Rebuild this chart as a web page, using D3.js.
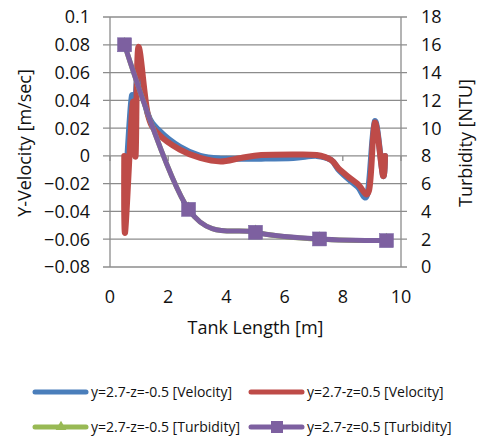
<!DOCTYPE html>
<html>
<head>
<meta charset="utf-8">
<script src="https://cdn.jsdelivr.net/npm/d3@7"></script>
<style>
  body { margin: 0; background: #fff; }
  svg { font-family: "Open Sans", sans-serif; }
</style>
</head>
<body>
<div id="chart"></div>
<script>
// 数据
const velBlueX = [0.6, 0.75, 0.85, 0.97, 1.3, 1.7, 2.4, 3.1, 3.8, 4.5, 5.2, 6.3, 7.1, 7.6, 7.9, 8.5, 8.85, 9.1, 9.38, 9.45];
const velBlueY = [0, 0.043, 0.03, 0.06, 0.03, 0.018, 0.0065, 0.0, -0.002, -0.002, -0.002, -0.0015, 0.0, -0.003, -0.011, -0.022, -0.027, 0.025, -0.014, 0.0];
const velRedX = [0.49, 0.52, 0.78, 0.88, 0.97, 1.3, 1.7, 2.4, 3.1, 3.8, 4.5, 5.2, 6.3, 7.1, 7.6, 7.9, 8.5, 8.9, 9.1, 9.38, 9.45];
const velRedY = [0, -0.055, 0.038, 0.0, 0.078, 0.03, 0.015, 0.0045, -0.0015, -0.004, -0.0015, 0.0006, 0.001, 0.0006, -0.003, -0.01, -0.02, -0.025, 0.024, -0.014, 0.0];
const turbX = [0.5, 2.7, 5.0, 7.2, 9.5];
const turbGreenY = [16.0, 4.15, 2.5, 2.0, 1.9];
const turbPurpleY = [16.0, 4.15, 2.5, 2.02, 1.9];
const xTicks = [0, 2, 4, 6, 8, 10];
const yLeftTicks = [-0.08, -0.06, -0.04, -0.02, 0, 0.02, 0.04, 0.06, 0.08, 0.1];
const yRightTicks = [0, 2, 4, 6, 8, 10, 12, 14, 16, 18];
const legendLabels = [
  "y=2.7-z=-0.5 [Velocity]", "y=2.7-z=0.5 [Velocity]",
  "y=2.7-z=-0.5 [Turbidity]", "y=2.7-z=0.5 [Turbidity]"
];

const W = 482, H = 438;
const plot = { left: 110, right: 401, top: 17, bottom: 267 };
const colors = { blue: "#4a7ebb", red: "#be4b48", green: "#98b954", purple: "#7d60a0" };
const gridColor = "#8c8c8c";

const svg = d3.select("#chart").append("svg").attr("width", W).attr("height", H);

const x = d3.scaleLinear().domain([0, 10]).range([plot.left, plot.right]);
const yL = d3.scaleLinear().domain([-0.08, 0.1]).range([plot.bottom, plot.top]);
const yR = d3.scaleLinear().domain([0, 18]).range([plot.bottom, plot.top]);

// 网格线 + 左轴刻度
svg.append("g").selectAll("line").data(yLeftTicks).join("line")
  .attr("x1", plot.left - 7).attr("x2", plot.right + 6)
  .attr("y1", d => yL(d)).attr("y2", d => yL(d))
  .attr("stroke", gridColor).attr("stroke-width", 1.3);

// 纵轴线
[plot.left, plot.right].forEach(px => {
  svg.append("line").attr("x1", px).attr("x2", px)
    .attr("y1", plot.top).attr("y2", plot.bottom)
    .attr("stroke", gridColor).attr("stroke-width", 1.3);
});

// x 轴在 0 处的刻度
svg.append("g").selectAll("line").data(xTicks).join("line")
  .attr("x1", d => x(d)).attr("x2", d => x(d))
  .attr("y1", yL(0)).attr("y2", yL(0) + 5)
  .attr("stroke", gridColor).attr("stroke-width", 1.3);

// 刻度标签
svg.append("g").selectAll("text").data(yLeftTicks).join("text")
  .attr("x", 90).attr("y", d => yL(d)).attr("dy", "0.36em")
  .attr("text-anchor", "end").attr("font-size", 18).attr("fill", "#111")
  .text(d => d3.format("")(+d.toFixed(2)));

svg.append("g").selectAll("text").data(yRightTicks).join("text")
  .attr("x", 421).attr("y", d => yR(d)).attr("dy", "0.36em")
  .attr("text-anchor", "start").attr("font-size", 18).attr("fill", "#111")
  .text(d => d);

svg.append("g").selectAll("text").data(xTicks).join("text")
  .attr("x", d => x(d)).attr("y", 297).attr("dy", "0.36em")
  .attr("text-anchor", "middle").attr("font-size", 18).attr("fill", "#111")
  .text(d => d);

// 轴标题
svg.append("text").attr("x", (plot.left + plot.right) / 2).attr("y", 328).attr("dy", "0.36em")
  .attr("text-anchor", "middle").attr("font-size", 18).attr("fill", "#111")
  .text("Tank Length [m]");
svg.append("text").attr("transform", "translate(25,143) rotate(-90)").attr("dy", "0.36em")
  .attr("text-anchor", "middle").attr("font-size", 18).attr("fill", "#111")
  .text("Y-Velocity [m/sec]");
svg.append("text").attr("transform", "translate(466,143) rotate(-90)").attr("dy", "0.36em")
  .attr("text-anchor", "middle").attr("font-size", 18).attr("fill", "#111")
  .text("Turbidity [NTU]");

// 曲线
const lineL = d3.line().x(d => x(d[0])).y(d => yL(d[1])).curve(d3.curveCardinal.tension(0));
const lineR = d3.line().x(d => x(d[0])).y(d => yR(d[1])).curve(d3.curveCardinal.tension(0));

function drawSeries(xs, ys, gen, color, width) {
  const pts = xs.map((v, i) => [v, ys[i]]);
  svg.append("path").datum(pts).attr("d", gen)
    .attr("fill", "none").attr("stroke", color).attr("stroke-width", width)
    .attr("stroke-linejoin", "round").attr("stroke-linecap", "round");
  return pts;
}

drawSeries(velBlueX, velBlueY, lineL, colors.blue, 6);
drawSeries(velRedX, velRedY, lineL, colors.red, 6);

const greenPts = drawSeries(turbX, turbGreenY, lineR, colors.green, 5);
svg.append("g").selectAll("path").data(greenPts).join("path")
  .attr("transform", d => `translate(${x(d[0])},${yR(d[1])})`)
  .attr("d", d3.symbol(d3.symbolTriangle, 80))
  .attr("fill", colors.green);

const purplePts = drawSeries(turbX, turbPurpleY, lineR, colors.purple, 5);
svg.append("g").selectAll("rect").data(purplePts).join("rect")
  .attr("x", d => x(d[0]) - 7).attr("y", d => yR(d[1]) - 7)
  .attr("width", 14).attr("height", 14)
  .attr("fill", colors.purple).attr("stroke", "#7460a0").attr("stroke-width", 0.5);

// 图例
const legendPos = [[33, 392], [249, 392], [33, 427], [249, 427]];
const legendColors = [colors.blue, colors.red, colors.green, colors.purple];
legendLabels.forEach((label, i) => {
  const [lx, ly] = legendPos[i];
  const g = svg.append("g").attr("transform", `translate(${lx},${ly})`);
  g.append("line").attr("x1", 2).attr("x2", 53).attr("y1", 0).attr("y2", 0)
    .attr("stroke", legendColors[i]).attr("stroke-width", 5).attr("stroke-linecap", "round");
  if (i === 2) {
    g.append("path").attr("transform", "translate(28,0)")
      .attr("d", d3.symbol(d3.symbolTriangle, 50)).attr("fill", colors.green);
  }
  if (i === 3) {
    g.append("rect").attr("x", 22).attr("y", -6).attr("width", 12).attr("height", 12)
      .attr("fill", colors.purple);
  }
  g.append("text").attr("x", 58).attr("y", 0).attr("dy", "0.36em")
    .attr("font-size", 14).attr("fill", "#111").text(label);
});
</script>
</body>
</html>
